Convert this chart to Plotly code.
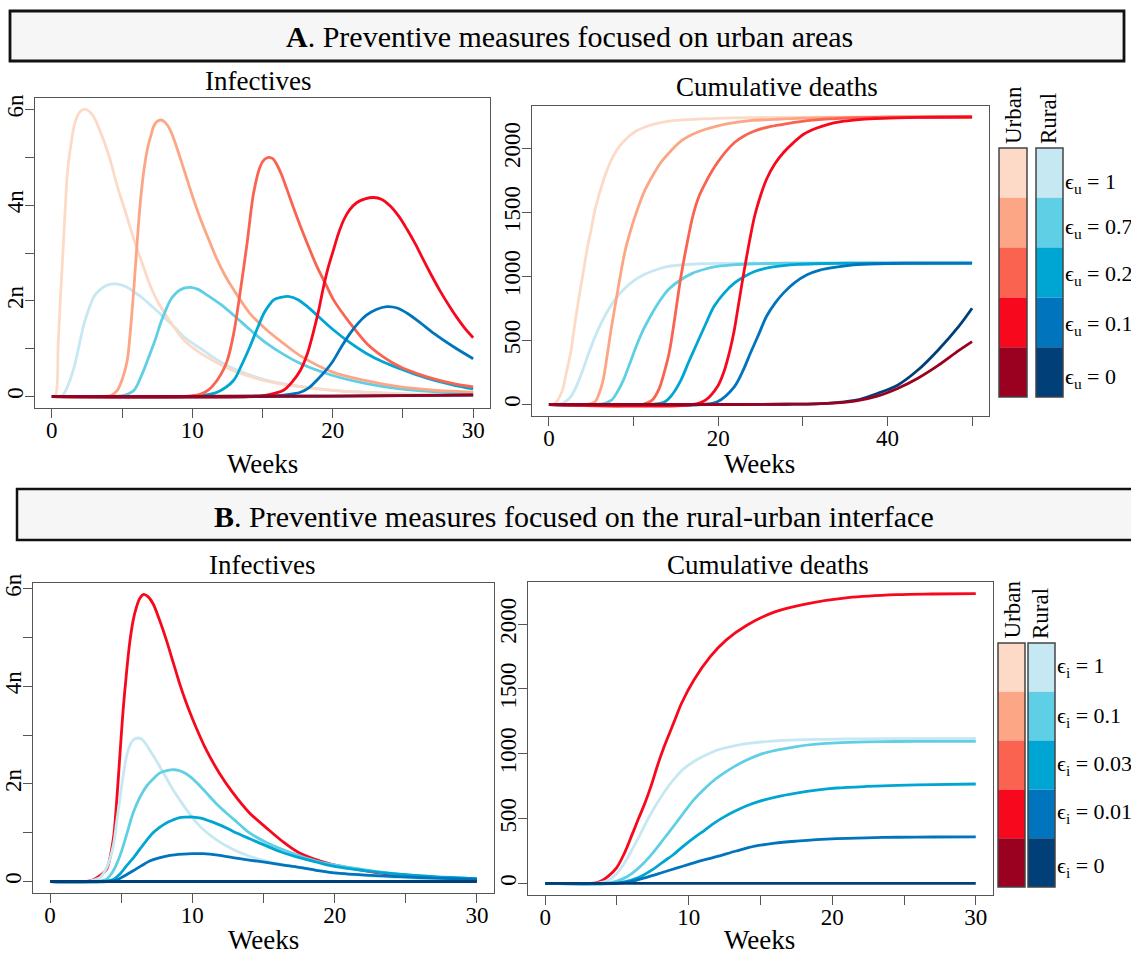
import plotly.graph_objects as go

W, H = 1131, 954
FONT = "Liberation Serif, Times New Roman, serif"

# ---------------- colours ----------------
urban_colors = ["#FDDAC7", "#FCA686", "#FA6350", "#F7081C", "#9A001F"]
rural_colors = ["#C6E8F2", "#5FCFE5", "#00A6D3", "#0074BD", "#003F78"]

# ---------------- panel A : Infectives (urban-focused) ----------------
A_inf_u1_t = [0, 0.25, 0.45, 0.6, 0.76, 0.93, 1.11, 1.35, 1.59, 1.8, 2.06, 2.4, 2.9, 3.5, 4.1, 4.66, 5.25, 5.85, 6.45, 7.03, 7.6, 8.2, 9.4, 10.6, 11.8, 13.0, 14.2, 15.3, 17.7, 20, 22.5, 25, 27.5, 30]
A_inf_u1_v = [0, 0.02, 1.1, 2.0, 2.86, 3.8, 4.68, 5.25, 5.66, 5.85, 5.97, 6.0, 5.88, 5.5, 5.0, 4.4, 3.85, 3.28, 2.77, 2.3, 1.95, 1.67, 1.18, 0.9, 0.7, 0.53, 0.41, 0.32, 0.2, 0.13, 0.08, 0.05, 0.04, 0.03]
A_inf_r1_t = [0, 0.5, 0.75, 1.1, 1.59, 1.95, 2.3, 2.65, 3.0, 3.5, 3.95, 4.66, 5.25, 5.85, 6.45, 7.03, 7.6, 8.2, 8.8, 9.4, 10.6, 11.8, 12.95, 14.1, 15.3, 17.7, 20, 22.4, 24.8, 27.4, 30]
A_inf_r1_v = [0, 0, 0.02, 0.2, 0.62, 1.08, 1.53, 1.84, 2.09, 2.25, 2.33, 2.35, 2.3, 2.19, 2.06, 1.91, 1.76, 1.6, 1.43, 1.25, 1.0, 0.76, 0.58, 0.45, 0.34, 0.21, 0.13, 0.09, 0.06, 0.04, 0.03]
A_inf_u2_t = [0, 3.5, 4.2, 4.66, 5.0, 5.37, 5.6, 5.85, 6.08, 6.32, 6.55, 6.8, 7.05, 7.27, 7.5, 7.79, 8.1, 8.45, 8.9, 9.4, 10.0, 10.6, 11.2, 11.77, 12.35, 12.95, 14.1, 15.3, 16.5, 17.7, 20, 22.4, 24.8, 27.4, 30]
A_inf_u2_v = [0, 0, 0.02, 0.13, 0.35, 0.76, 1.4, 2.3, 3.25, 4.12, 4.72, 5.17, 5.45, 5.66, 5.75, 5.78, 5.72, 5.56, 5.2, 4.75, 4.2, 3.7, 3.26, 2.86, 2.52, 2.23, 1.74, 1.39, 1.11, 0.85, 0.51, 0.33, 0.2, 0.13, 0.09]
A_inf_r2_t = [0, 4.5, 5.2, 5.85, 6.4, 7.0, 7.4, 7.74, 8.1, 8.45, 8.8, 9.16, 9.5, 9.87, 10.4, 11.06, 12.0, 12.95, 14.1, 15.3, 16.5, 17.7, 20, 22.4, 24.8, 27.4, 30]
A_inf_r2_v = [0, 0, 0.03, 0.13, 0.45, 0.9, 1.22, 1.53, 1.8, 2.02, 2.15, 2.23, 2.27, 2.28, 2.24, 2.12, 1.93, 1.7, 1.4, 1.11, 0.88, 0.69, 0.44, 0.27, 0.16, 0.1, 0.07]
A_inf_u3_t = [0, 9.5, 10.6, 11.2, 11.77, 12.2, 12.5, 12.95, 13.4, 13.9, 14.37, 14.85, 15.15, 15.44, 15.75, 16.0, 16.35, 16.74, 17.2, 17.7, 18.3, 18.87, 19.5, 20.06, 21.24, 22.42, 23.6, 24.8, 26.0, 27.2, 28.6, 30]
A_inf_u3_v = [0, 0, 0.05, 0.15, 0.34, 0.55, 0.76, 1.32, 2.16, 3.2, 4.26, 4.82, 4.96, 5.0, 4.97, 4.86, 4.64, 4.33, 3.95, 3.56, 3.12, 2.72, 2.35, 2.02, 1.53, 1.11, 0.83, 0.62, 0.48, 0.37, 0.27, 0.2]
A_inf_r3_t = [0, 9.5, 10.6, 11.77, 12.95, 13.5, 14.1, 14.6, 15.1, 15.45, 15.8, 16.3, 16.9, 17.5, 18.2, 19.1, 20.06, 21.2, 22.4, 23.6, 24.8, 26.0, 27.2, 28.6, 30]
A_inf_r3_v = [0, 0, 0.02, 0.09, 0.34, 0.65, 1.04, 1.4, 1.74, 1.9, 2.02, 2.07, 2.09, 2.03, 1.88, 1.64, 1.39, 1.13, 0.9, 0.72, 0.58, 0.45, 0.34, 0.24, 0.16]
A_inf_u4_t = [0, 14, 15.3, 16.5, 17.1, 17.7, 18.2, 18.6, 19.0, 19.35, 19.7, 20.06, 20.4, 20.8, 21.2, 21.7, 22.3, 22.9, 23.5, 24.1, 24.7, 25.3, 25.9, 26.45, 27.0, 27.6, 28.2, 28.8, 29.4, 30]
A_inf_u4_v = [0, 0, 0.03, 0.13, 0.3, 0.55, 0.9, 1.32, 1.8, 2.3, 2.72, 3.07, 3.4, 3.7, 3.9, 4.05, 4.13, 4.16, 4.12, 3.98, 3.77, 3.49, 3.18, 2.86, 2.55, 2.23, 1.94, 1.67, 1.43, 1.23]
A_inf_r4_t = [0, 15, 16.5, 17.7, 18.3, 18.87, 19.5, 20.06, 20.6, 21.24, 21.8, 22.4, 23.1, 23.85, 24.6, 25.3, 26.2, 27.2, 28.6, 30]
A_inf_r4_v = [0, 0, 0.03, 0.09, 0.18, 0.34, 0.54, 0.76, 1.03, 1.32, 1.53, 1.7, 1.82, 1.88, 1.85, 1.74, 1.55, 1.32, 1.04, 0.79]
A_inf_u5_t = [0, 10, 20, 25, 30]
A_inf_u5_v = [0, 0.003, 0.01, 0.02, 0.035]
A_inf_r5_t = [0, 10, 20, 25, 30]
A_inf_r5_v = [0, 0.003, 0.01, 0.02, 0.03]

# ---------------- panel A : Cumulative deaths ----------------
A_cd_u1_t = [0, 0.5, 1.0, 1.6, 2.06, 2.56, 3.0, 3.5, 4.0, 4.5, 5.0, 5.45, 6.2, 6.9, 7.6, 8.35, 9.3, 10.3, 11.7, 13.2, 15.0, 17.0, 21.9, 27, 35, 42, 50]
A_cd_u1_v = [0, 0, 30, 112, 250, 400, 600, 817, 1010, 1209, 1370, 1522, 1700, 1836, 1940, 2018, 2085, 2136, 2175, 2201, 2218, 2227, 2238, 2242, 2244, 2245, 2245]
A_cd_r1_t = [0, 1.0, 1.8, 2.56, 3.3, 4.0, 4.7, 5.45, 6.2, 6.9, 7.8, 8.8, 10, 11.2, 12.6, 14.1, 16, 18, 21, 25, 30, 40, 50]
A_cd_r1_v = [0, 0, 15, 60, 150, 269, 400, 530, 640, 726, 820, 896, 965, 1013, 1050, 1078, 1092, 1099, 1102, 1104, 1104, 1104, 1104]
A_cd_u2_t = [0, 4.5, 5.45, 5.9, 6.4, 6.9, 7.4, 7.9, 8.35, 9.0, 9.8, 10.5, 11.2, 12.2, 13.2, 14.4, 15.6, 17.0, 18.5, 20.2, 21.9, 24, 26.7, 30, 35, 42, 50]
A_cd_u2_v = [0, 0, 21, 80, 190, 390, 608, 800, 974, 1200, 1392, 1530, 1653, 1780, 1888, 1980, 2057, 2110, 2149, 2180, 2201, 2218, 2227, 2236, 2242, 2245, 2245]
A_cd_r2_t = [0, 5.5, 6.5, 7.4, 8.1, 8.8, 9.5, 10.3, 11.2, 12.2, 13.1, 14.1, 15.5, 17, 18.5, 19.9, 22, 24.3, 28, 35, 50]
A_cd_r2_v = [0, 0, 8, 34, 100, 190, 310, 452, 590, 713, 810, 896, 970, 1026, 1058, 1078, 1092, 1099, 1103, 1104, 1104]
A_cd_u3_t = [0, 11, 12.2, 13.0, 13.7, 14.2, 14.6, 15.1, 15.6, 16.3, 17.0, 17.7, 18.5, 19.2, 19.9, 20.9, 21.9, 23.0, 24.3, 26, 27.7, 29.5, 31.5, 35, 40, 50]
A_cd_u3_v = [0, 0, 34, 120, 269, 400, 556, 780, 1000, 1250, 1470, 1620, 1731, 1815, 1888, 1975, 2044, 2095, 2136, 2168, 2188, 2207, 2222, 2236, 2243, 2245]
A_cd_r3_t = [0, 12, 13.7, 14.6, 15.6, 16.5, 17.5, 18.5, 19.5, 20.7, 21.9, 23.1, 24.3, 26, 27.7, 29.5, 31.5, 35, 40, 50]
A_cd_r3_v = [0, 0, 21, 80, 190, 330, 478, 625, 765, 870, 948, 1000, 1039, 1068, 1084, 1094, 1099, 1103, 1104, 1104]
A_cd_u4_t = [0, 17, 18.5, 19.9, 20.7, 21.4, 21.9, 22.3, 22.8, 23.3, 23.8, 24.3, 25.0, 25.7, 26.7, 27.7, 28.9, 30.1, 31.5, 33, 34.5, 36.3, 38.5, 41.2, 45, 50]
A_cd_u4_v = [0, 0, 34, 138, 260, 426, 580, 739, 940, 1131, 1310, 1470, 1630, 1757, 1880, 1966, 2045, 2110, 2155, 2188, 2208, 2222, 2232, 2238, 2243, 2245]
A_cd_r4_t = [0, 18, 19.9, 21.9, 22.9, 23.8, 24.8, 25.7, 26.7, 27.7, 29.0, 30.5, 32, 33.9, 36, 38.8, 42, 50]
A_cd_r4_v = [0, 0, 21, 138, 260, 400, 550, 687, 790, 870, 950, 1013, 1050, 1073, 1090, 1099, 1103, 1104]
A_cd_u5_t = [0, 20, 28, 31.5, 34, 36.3, 38.8, 41.2, 43.6, 46, 48.4, 50]
A_cd_u5_v = [0, 0, 2, 5, 13, 28, 65, 125, 205, 305, 420, 491]
A_cd_r5_t = [0, 20, 28, 31.5, 34, 36.3, 38.8, 41.2, 43.6, 46, 48.4, 50]
A_cd_r5_v = [0, 0, 2, 5, 15, 34, 86, 151, 269, 426, 608, 752]

# ---------------- panel B : Infectives (interface-focused) ----------------
B_inf_u_t = [0, 2.5, 3.0, 3.5, 3.97, 4.44, 4.67, 4.9, 5.13, 5.37, 5.6, 5.84, 6.07, 6.3, 6.58, 6.9, 7.24, 7.7, 8.17, 8.64, 9.1, 9.57, 10.04, 10.97, 11.9, 12.84, 14.0, 15.2, 16.3, 17.5, 19.8, 22.2, 24.5, 27, 30]
B_inf_u_v = [0, 0, 0.03, 0.12, 0.25, 0.86, 1.6, 2.56, 3.5, 4.27, 4.9, 5.35, 5.62, 5.8, 5.88, 5.83, 5.69, 5.35, 4.95, 4.5, 4.06, 3.66, 3.31, 2.7, 2.22, 1.82, 1.41, 1.1, 0.83, 0.59, 0.35, 0.22, 0.13, 0.08, 0.05]
B_inf_r1_t = [0, 2.5, 3.5, 4.0, 4.44, 4.67, 4.9, 5.13, 5.37, 5.6, 5.84, 6.19, 6.5, 6.77, 7.2, 7.7, 8.17, 8.64, 9.1, 9.57, 10.5, 11.67, 12.84, 14.0, 15.2, 16.3, 17.5, 19.8, 22.2, 24.5, 27, 30]
B_inf_r1_v = [0, 0, 0.08, 0.3, 0.73, 1.2, 1.68, 2.15, 2.56, 2.78, 2.9, 2.94, 2.9, 2.8, 2.6, 2.36, 2.12, 1.88, 1.68, 1.48, 1.14, 0.86, 0.66, 0.52, 0.42, 0.35, 0.29, 0.18, 0.12, 0.08, 0.05, 0.03]
B_inf_r2_t = [0, 3.0, 3.97, 4.44, 4.9, 5.37, 5.84, 6.3, 6.77, 7.24, 7.7, 8.2, 8.76, 9.3, 9.8, 10.4, 10.97, 11.6, 12.37, 13.2, 14.0, 15.2, 16.3, 17.5, 18.7, 21, 24.5, 27, 30]
B_inf_r2_v = [0, 0, 0.05, 0.22, 0.52, 0.95, 1.41, 1.72, 1.95, 2.1, 2.22, 2.27, 2.29, 2.25, 2.16, 2.0, 1.82, 1.62, 1.41, 1.2, 1.0, 0.8, 0.66, 0.53, 0.42, 0.29, 0.15, 0.09, 0.05]
B_inf_r3_t = [0, 3.5, 4.44, 4.9, 5.37, 5.84, 6.3, 6.77, 7.24, 7.7, 8.17, 8.64, 9.1, 9.57, 10.04, 10.6, 11.2, 12.0, 12.84, 14.0, 15.2, 16.3, 17.5, 18.7, 19.8, 22.2, 24.5, 27, 30]
B_inf_r3_v = [0, 0, 0.04, 0.15, 0.32, 0.48, 0.66, 0.84, 1.0, 1.11, 1.2, 1.26, 1.31, 1.32, 1.32, 1.3, 1.24, 1.15, 1.03, 0.88, 0.73, 0.6, 0.49, 0.4, 0.32, 0.22, 0.15, 0.1, 0.06]
B_inf_r4_t = [0, 4.0, 4.67, 5.25, 5.84, 6.4, 7.0, 7.6, 8.17, 8.75, 9.34, 10.0, 10.74, 11.8, 12.84, 14.0, 15.2, 16.3, 17.5, 18.7, 19.8, 22.2, 24.5, 27, 30]
B_inf_r4_v = [0, 0, 0.03, 0.12, 0.22, 0.32, 0.42, 0.48, 0.52, 0.545, 0.56, 0.57, 0.57, 0.54, 0.49, 0.44, 0.39, 0.34, 0.29, 0.23, 0.18, 0.13, 0.1, 0.07, 0.05]
B_inf_r5_t = [0, 30]
B_inf_r5_v = [0, 0]

# ---------------- panel B : Cumulative deaths ----------------
B_cd_u_t = [0, 3.0, 3.55, 4.0, 4.4, 4.97, 5.53, 6.1, 6.5, 6.95, 7.4, 7.8, 8.2, 8.66, 9.1, 9.5, 10.36, 11.5, 12.6, 14.05, 16.0, 18.3, 21.1, 24.5, 27, 30]
B_cd_u_v = [0, 0, 5, 25, 56, 120, 236, 390, 500, 620, 760, 902, 1030, 1159, 1280, 1390, 1569, 1749, 1877, 1992, 2095, 2159, 2205, 2228, 2233, 2236]
B_cd_r1_t = [0, 3.5, 4.4, 4.97, 5.53, 6.1, 6.67, 7.2, 7.8, 8.36, 8.94, 9.6, 10.36, 11.2, 12.06, 13.1, 14.3, 15.8, 17.5, 19.5, 21.7, 25, 30]
B_cd_r1_v = [0, 0, 25, 75, 159, 270, 390, 505, 620, 715, 800, 880, 941, 990, 1031, 1060, 1082, 1098, 1108, 1112, 1115, 1117, 1118]
B_cd_r2_t = [0, 4.0, 4.68, 5.4, 6.1, 6.8, 7.5, 8.2, 8.94, 9.65, 10.36, 11.1, 11.8, 12.5, 13.2, 14.0, 14.9, 16.2, 17.5, 18.9, 20.3, 22.4, 24.5, 27, 30]
B_cd_r2_v = [0, 0, 8, 35, 82, 150, 236, 335, 441, 545, 646, 730, 800, 855, 903, 950, 992, 1030, 1056, 1074, 1085, 1092, 1095, 1096, 1096]
B_cd_r3_t = [0, 4.5, 5.5, 6.5, 7.5, 8.2, 8.94, 9.65, 10.36, 11.1, 11.8, 12.5, 13.2, 14.0, 14.9, 16.2, 17.5, 18.9, 20.3, 22.4, 24.5, 27, 30]
B_cd_r3_v = [0, 0, 12, 45, 108, 165, 223, 290, 351, 410, 467, 515, 556, 597, 633, 670, 697, 720, 736, 748, 756, 762, 767]
B_cd_r4_t = [0, 5, 6, 7, 8.1, 9.2, 10.36, 11.2, 12.06, 13.3, 14.6, 16.0, 17.5, 18.9, 20.3, 22.4, 24.5, 27, 30]
B_cd_r4_v = [0, 0, 15, 45, 82, 120, 159, 185, 210, 250, 287, 310, 326, 338, 346, 352, 356, 358, 359]
B_cd_r5_t = [0, 30]
B_cd_r5_v = [0, 0]

# ---------------- text ----------------
legend_A_labels = ["ϵ<sub>u</sub> = 1", "ϵ<sub>u</sub> = 0.7", "ϵ<sub>u</sub> = 0.2", "ϵ<sub>u</sub> = 0.1", "ϵ<sub>u</sub> = 0"]
legend_B_labels = ["ϵ<sub>i</sub> = 1", "ϵ<sub>i</sub> = 0.1", "ϵ<sub>i</sub> = 0.03", "ϵ<sub>i</sub> = 0.01", "ϵ<sub>i</sub> = 0"]
inf_tickvals = [0, 2, 4, 6]
inf_ticktext = ["0", "2n", "4n", "6n"]
cd_tickvals = [0, 500, 1000, 1500, 2000]


def px(x):
    return x / W


def py(y):
    return 1 - y / H


fig = go.Figure()


def add(t, v, color, ax):
    fig.add_trace(go.Scatter(
        x=t, y=v, mode="lines", xaxis="x" + ax, yaxis="y" + ax,
        line=dict(color=color, width=2.8, shape="spline", smoothing=0.9),
        showlegend=False, hoverinfo="skip"))


A_inf = [
    (A_inf_r1_t, A_inf_r1_v, A_inf_u1_t, A_inf_u1_v),
    (A_inf_r2_t, A_inf_r2_v, A_inf_u2_t, A_inf_u2_v),
    (A_inf_r3_t, A_inf_r3_v, A_inf_u3_t, A_inf_u3_v),
    (A_inf_r4_t, A_inf_r4_v, A_inf_u4_t, A_inf_u4_v),
    (A_inf_r5_t, A_inf_r5_v, A_inf_u5_t, A_inf_u5_v),
]
for i, (rt, rv, ut, uv) in enumerate(A_inf):
    add(rt, rv, rural_colors[i], "")
    add(ut, uv, urban_colors[i], "")

A_cd = [
    (A_cd_r1_t, A_cd_r1_v, A_cd_u1_t, A_cd_u1_v),
    (A_cd_r2_t, A_cd_r2_v, A_cd_u2_t, A_cd_u2_v),
    (A_cd_r3_t, A_cd_r3_v, A_cd_u3_t, A_cd_u3_v),
    (A_cd_r4_t, A_cd_r4_v, A_cd_u4_t, A_cd_u4_v),
    (A_cd_r5_t, A_cd_r5_v, A_cd_u5_t, A_cd_u5_v),
]
for i, (rt, rv, ut, uv) in enumerate(A_cd):
    add(rt, rv, rural_colors[i], "2")
    add(ut, uv, urban_colors[i], "2")

add(B_inf_u_t, B_inf_u_v, urban_colors[3], "3")
for i, (t, v) in enumerate([(B_inf_r1_t, B_inf_r1_v), (B_inf_r2_t, B_inf_r2_v), (B_inf_r3_t, B_inf_r3_v),
                            (B_inf_r4_t, B_inf_r4_v), (B_inf_r5_t, B_inf_r5_v)]):
    add(t, v, rural_colors[i], "3")
add(B_cd_u_t, B_cd_u_v, urban_colors[3], "4")
for i, (t, v) in enumerate([(B_cd_r1_t, B_cd_r1_v), (B_cd_r2_t, B_cd_r2_v), (B_cd_r3_t, B_cd_r3_v),
                            (B_cd_r4_t, B_cd_r4_v), (B_cd_r5_t, B_cd_r5_v)]):
    add(t, v, rural_colors[i], "4")

TICKC = "#555555"
axcommon = dict(showline=True, mirror=True, linecolor=TICKC, linewidth=1.3,
                ticks="outside", ticklen=9, tickcolor=TICKC, tickwidth=1.3,
                showgrid=False, zeroline=False, automargin=False,
                tickfont=dict(family=FONT, size=23, color="black"))
xcommon = dict(axcommon, ticklabelstandoff=-8)
ycommon = dict(axcommon, tickangle=-90, ticklabelstandoff=-7)


def minor(d):
    return dict(dtick=d, tick0=0, ticks="outside", ticklen=9, tickcolor=TICKC, tickwidth=1.3, showgrid=False)


def rng(lo, hi):
    d = (hi - lo) * 0.04
    return [lo - d, hi + d]


fig.update_layout(
    width=W, height=H, autosize=False,
    margin=dict(l=0, r=0, t=0, b=0, pad=0, autoexpand=False),
    paper_bgcolor="white", plot_bgcolor="white",
    xaxis=dict(xcommon, domain=[px(35), px(490)], range=rng(0, 30), anchor="y",
               tick0=0, dtick=10, minor=minor(5)),
    yaxis=dict(ycommon, domain=[py(408), py(98)], range=rng(0, 6.0), anchor="x",
               tickvals=inf_tickvals, ticktext=inf_ticktext, minor=minor(1)),
    xaxis2=dict(xcommon, domain=[px(532), px(989)], range=rng(0, 50), anchor="y2",
                tick0=0, dtick=20, minor=minor(10)),
    yaxis2=dict(ycommon, domain=[py(416), py(105.5)], range=rng(0, 2245), anchor="x2",
                tickvals=cd_tickvals),
    xaxis3=dict(xcommon, domain=[px(33), px(494)], range=rng(0, 30), anchor="y3",
                tick0=0, dtick=10, minor=minor(5)),
    yaxis3=dict(ycommon, domain=[py(893), py(583)], range=rng(0, 5.88), anchor="x3",
                tickvals=inf_tickvals, ticktext=inf_ticktext, minor=minor(1)),
    xaxis4=dict(xcommon, domain=[px(528), px(993)], range=rng(0, 30), anchor="y4",
                tick0=0, dtick=10, minor=minor(5)),
    yaxis4=dict(ycommon, domain=[py(895), py(582)], range=rng(0, 2236), anchor="x4",
                tickvals=cd_tickvals),
)

shapes = []
annotations = []


def text(x, y, s, size, angle=0, xanchor="center", yanchor="middle"):
    annotations.append(dict(x=px(x), y=py(y), xref="paper", yref="paper", text=s,
                            showarrow=False, textangle=angle, xanchor=xanchor, yanchor=yanchor,
                            font=dict(family=FONT, size=size, color="black")))


def rect(x0, y0, x1, y1, fill, line="rgba(0,0,0,0)", lw=0):
    shapes.append(dict(type="rect", xref="paper", yref="paper",
                       x0=px(x0), x1=px(x1), y0=py(y1), y1=py(y0),
                       fillcolor=fill, line=dict(color=line, width=lw), layer="above"))


rect(10, 11, 1124, 61, "#F6F6F6", "#111111", 2.8)
rect(17, 489, 1140, 540, "#F6F6F6", "#111111", 2.5)
text(569, 37, "<b>A</b>. Preventive measures focused on urban areas", 30)
text(574, 516, "<b>B</b>. Preventive measures focused on the rural-urban interface", 30)

text(258, 81, "Infectives", 27)
text(777, 87, "Cumulative deaths", 27)
text(262, 565, "Infectives", 27)
text(768, 565, "Cumulative deaths", 27)
text(262, 464, "Weeks", 27)
text(760, 464, "Weeks", 27)
text(263, 940, "Weeks", 27)
text(760, 940, "Weeks", 27)


def legend(ux0, ux1, rx0, rx1, y0, y1, labels, label_x, label_ys, top_y):
    h = (y1 - y0) / 5.0
    for i in range(5):
        rect(ux0, y0 + i * h, ux1, y0 + (i + 1) * h, urban_colors[i])
        rect(rx0, y0 + i * h, rx1, y0 + (i + 1) * h, rural_colors[i])
    for a, b in ((ux0, ux1), (rx0, rx1)):
        shapes.append(dict(type="rect", xref="paper", yref="paper", x0=px(a), x1=px(b),
                           y0=py(y1), y1=py(y0), line=dict(color="#444444", width=1.5), layer="above"))
    for s, ly in zip(labels, label_ys):
        text(label_x, ly, s, 22, xanchor="left")
    text((ux0 + ux1) / 2, top_y, "Urban", 23, angle=-90, yanchor="bottom")
    text((rx0 + rx1) / 2 - 1, top_y, "Rural", 23, angle=-90, yanchor="bottom")


legend(999, 1027, 1036, 1063, 148, 397, legend_A_labels, 1063, [183, 228, 275, 325, 378], 146)
legend(998, 1025, 1028, 1055, 643, 887, legend_B_labels, 1055, [667, 717, 765, 813, 867], 641)

fig.update_layout(shapes=shapes, annotations=annotations)
fig.write_html("out.html", config={"displayModeBar": False},
               post_script="document.body.style.margin='0';document.body.style.padding='0';")
